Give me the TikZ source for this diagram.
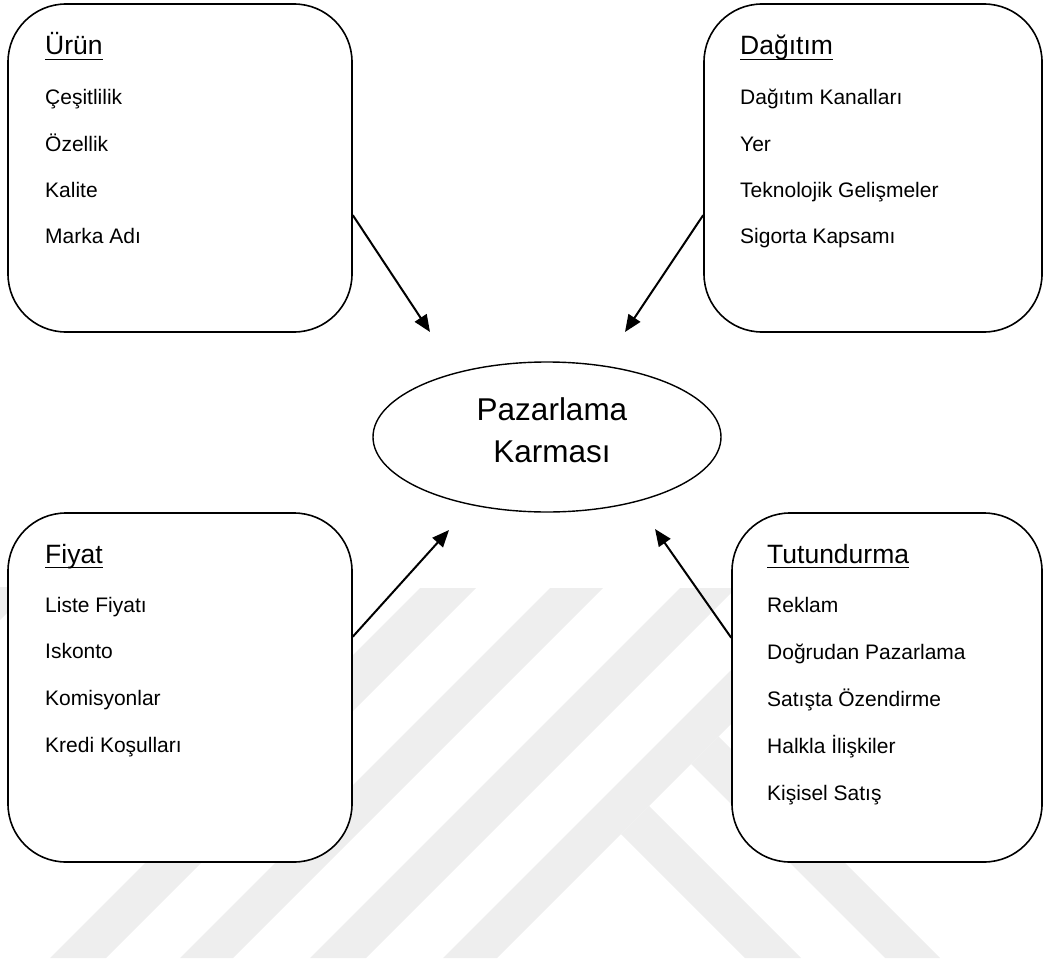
\documentclass[tikz,border=0pt]{standalone}
\usepackage{fontspec}
\setmainfont{Liberation Sans}
\usetikzlibrary{arrows.meta,calc,shapes.geometric}
\definecolor{wmgrey}{gray}{0.935}
\begin{document}
\begin{tikzpicture}[x=1pt,y=-1pt,
  panel/.style={draw=black, line width=1.6pt, fill=white, rounded corners=58pt, inner sep=0pt},
  hub/.style={draw=black, line width=1.4pt, fill=white, ellipse, inner sep=0pt,
              minimum width=348pt, minimum height=150pt},
  hubtext/.style={anchor=base, inner sep=0pt, font=\fontsize{31.5}{36}\selectfont},
  heading/.style={anchor=base west, inner sep=0pt, font=\fontsize{26.5}{30}\selectfont},
  listitem/.style={anchor=base west, inner sep=0pt, font=\fontsize{21}{25}\selectfont},
  headrule/.style={line width=1.8pt},
  feed/.style={line width=2pt, -{Triangle[length=17pt,width=14pt]}},
  wmstripe/.style={fill=wmgrey, draw=none}
]
\useasboundingbox (0,0) rectangle (1044,963);

% faint watermark stripes in the background
\begin{scope}
  \clip (0,0) rectangle (1044,963);
  \fill[wmstripe] (-22,587) -- (33,587) -- (-60,680) -- (-115,680) -- cycle;
  \fill[wmstripe] (50,958) -- (106,958) -- (476,588) -- (420,588) -- cycle;
  \fill[wmstripe] (180,958) -- (233,958) -- (603,588) -- (550,588) -- cycle;
  \fill[wmstripe] (310,958) -- (366,958) -- (736,588) -- (680,588) -- cycle;
  \fill[wmstripe] (443,958) -- (497,958) -- (867,588) -- (813,588) -- cycle;
  \fill[wmstripe] (621,834) -- (745,958) -- (801,958) -- (649,806) -- cycle;
  \fill[wmstripe] (691,764) -- (885,958) -- (940,958) -- (718.5,736.5) -- cycle;
\end{scope}

% the four panels
\node[panel, minimum width=344pt, minimum height=328pt] (urun) at (180,168) {};
\node[panel, minimum width=338pt, minimum height=328pt] (dagitim) at (873,168) {};
\node[panel, minimum width=344pt, minimum height=349pt] (fiyat) at (180,687.5) {};
\node[panel, minimum width=310pt, minimum height=349pt] (tutundurma) at (887,687.5) {};

% central ellipse
\node[hub] (karma) at (547,437) {};
\node[hubtext] (karmaA) at (552,420) {Pazarlama};
\node[hubtext] (karmaB) at (552,462) {Karması};

% panel headings with underlines
\node[heading] (hU) at (45,55) {Ürün};
\node[heading] (hD) at (740,55) {Dağıtım};
\node[heading] (hF) at (45,563) {Fiyat};
\node[heading] (hT) at (767,563) {Tutundurma};
\foreach \h in {hU,hD,hF,hT}
  \draw[headrule] ([yshift=-4.5pt]\h.base west) -- ([yshift=-4.5pt]\h.base east);

% panel items
\foreach \t [count=\i] in {Çeşitlilik, Özellik, Kalite, Marka Adı}
  \node[listitem] (u\i) at (45,{105+46.3*(\i-1)}) {\t};
\foreach \t [count=\i] in {Dağıtım Kanalları, Yer, Teknolojik Gelişmeler, Sigorta Kapsamı}
  \node[listitem] (d\i) at (740,{105+46.3*(\i-1)}) {\t};
\foreach \t [count=\i] in {Liste Fiyatı, Iskonto, Komisyonlar, Kredi Koşulları}
  \node[listitem] (f\i) at (45,{612+46.7*(\i-1)}) {\t};
\foreach \t [count=\i] in {Reklam, Doğrudan Pazarlama, Satışta Özendirme, Halkla İlişkiler, Kişisel Satış}
  \node[listitem] (t\i) at (767,{612+47*(\i-1)}) {\t};

% arrows pointing towards the centre
\coordinate (tipU) at (430,332);
\coordinate (tipD) at (625,332);
\coordinate (tipF) at (449,530);
\coordinate (tipT) at (655,529);
\draw[feed] ($(urun.north east)!0.643!(urun.south east)$) -- (tipU);
\draw[feed] ($(dagitim.north west)!0.643!(dagitim.south west)$) -- (tipD);
\draw[feed] ($(fiyat.north east)!0.355!(fiyat.south east)$) -- (tipF);
\draw[feed] ($(tutundurma.north west)!0.358!(tutundurma.south west)$) -- (tipT);
\end{tikzpicture}
\end{document}
